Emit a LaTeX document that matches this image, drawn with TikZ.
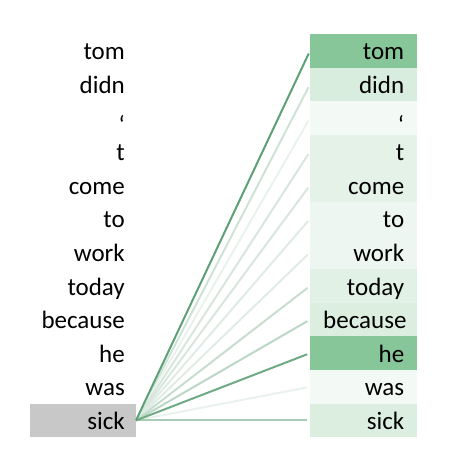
\documentclass[tikz,border=0pt]{standalone}
\usepackage{fontspec}
\setmainfont{Carlito}
\usepackage{tikz}
\usetikzlibrary{positioning}
\definecolor{attnGreen}{RGB}{134,198,152}
\definecolor{attnLine}{RGB}{94,160,118}
\definecolor{srcGray}{RGB}{200,200,200}

\begin{document}
\begin{tikzpicture}[
  x=1pt, y=-1pt,
  font=\fontsize{25}{29}\selectfont,
  src/.style={anchor=east, text width=84pt, align=right, inner xsep=11pt, inner ysep=0pt,
    minimum height=33.6pt, text height=21pt, text depth=3pt},
  tgt/.style={anchor=west, text width=81pt, align=right, inner xsep=13pt, inner ysep=0pt,
    minimum height=33.6pt, text height=21pt, text depth=3pt},
  att/.style={line width=2pt, shorten >=3pt},
]
\useasboundingbox (0,0) rectangle (453,465);
% source tokens
\node[src] (l1) at (136,50.8) {tom};
\node[src] (l2) at (136,84.4) {didn};
\node[src] (l3) at (136,118.0) {\raisebox{-7pt}{‘}};
\node[src] (l4) at (136,151.6) {t};
\node[src] (l5) at (136,185.2) {come};
\node[src] (l6) at (136,218.8) {to};
\node[src] (l7) at (136,252.4) {work};
\node[src] (l8) at (136,286.0) {today};
\node[src] (l9) at (136,319.6) {because};
\node[src] (l10) at (136,353.2) {he};
\node[src] (l11) at (136,386.8) {was};
\node[src, fill=srcGray] (l12) at (136,420.4) {sick};
% target tokens, shaded by weight
\node[tgt, fill=attnGreen] (r1) at (310,50.8) {tom};
\node[tgt, fill=attnGreen!32] (r2) at (310,84.4) {didn};
\node[tgt, fill=attnGreen!10] (r3) at (310,118.0) {\raisebox{-7pt}{‘}};
\node[tgt, fill=attnGreen!22] (r4) at (310,151.6) {t};
\node[tgt, fill=attnGreen!22] (r5) at (310,185.2) {come};
\node[tgt, fill=attnGreen!15] (r6) at (310,218.8) {to};
\node[tgt, fill=attnGreen!15] (r7) at (310,252.4) {work};
\node[tgt, fill=attnGreen!24] (r8) at (310,286.0) {today};
\node[tgt, fill=attnGreen!30] (r9) at (310,319.6) {because};
\node[tgt, fill=attnGreen] (r10) at (310,353.2) {he};
\node[tgt, fill=attnGreen!10] (r11) at (310,386.8) {was};
\node[tgt, fill=attnGreen!30] (r12) at (310,420.4) {sick};
% attention lines
\draw[att, attnLine!30] (l12.east) -- (r2.west);
\draw[att, attnLine!14] (l12.east) -- (r3.west);
\draw[att, attnLine!25] (l12.east) -- (r4.west);
\draw[att, attnLine!25] (l12.east) -- (r5.west);
\draw[att, attnLine!20] (l12.east) -- (r6.west);
\draw[att, attnLine!20] (l12.east) -- (r7.west);
\draw[att, attnLine!35] (l12.east) -- (r8.west);
\draw[att, attnLine!42] (l12.east) -- (r9.west);
\draw[att, attnLine!14] (l12.east) -- (r11.west);
\draw[att, attnLine!55] (l12.east) -- (r12.west);
\draw[att, attnLine!90] (l12.east) -- (r10.west);
\draw[att, attnLine] (l12.east) -- (r1.west);
\end{tikzpicture}
\end{document}
